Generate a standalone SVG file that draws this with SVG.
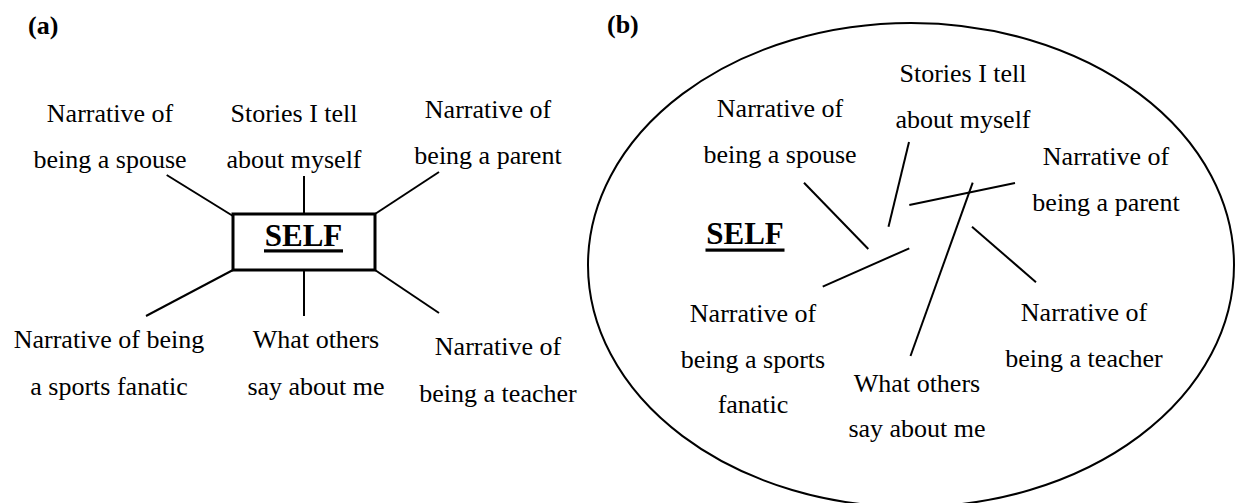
<svg xmlns="http://www.w3.org/2000/svg" width="1240" height="503" viewBox="0 0 1240 503">
<style>
  text { font-family: "Liberation Serif", "Times New Roman", "DejaVu Serif", serif; }
  .t { font-size: 26px; fill: #000; text-anchor: middle; }
  .panel { font-size: 26px; font-weight: bold; fill: #000; }
  .self { font-size: 31px; font-weight: bold; fill: #000; text-anchor: middle; }
  .ln { stroke: #000; stroke-width: 2; fill: none; stroke-linecap: butt; }
  .box { stroke: #000; stroke-width: 3; fill: #fff; }
  .ul { fill: #000; }
</style>
<rect width="1240" height="503" fill="#fff"/>

<g id="panel-a">
  <text class="panel" x="28" y="34">(a)</text>
  <g id="a-connectors">
    <line class="ln" x1="166.7" y1="175" x2="233" y2="216"/>
    <line class="ln" x1="304" y1="176" x2="304" y2="214"/>
    <line class="ln" x1="439" y1="172" x2="375" y2="214"/>
    <line class="ln" x1="233" y1="270" x2="146" y2="316"/>
    <line class="ln" x1="304" y1="270" x2="304" y2="316"/>
    <line class="ln" x1="375" y1="270" x2="439" y2="313"/>
  </g>
  <g id="a-self">
    <rect class="box" x="233" y="214" width="142" height="56"/>
    <text class="self" x="303.5" y="245.5">SELF</text>
    <rect class="ul" x="264" y="249.3" width="79" height="3.2"/>
  </g>
  <g id="a-spouse"><text class="t" x="110" y="122">Narrative of</text><text class="t" x="110" y="168">being a spouse</text></g>
  <g id="a-stories"><text class="t" x="294" y="122">Stories I tell</text><text class="t" x="294" y="168">about myself</text></g>
  <g id="a-parent"><text class="t" x="488" y="118">Narrative of</text><text class="t" x="488" y="164">being a parent</text></g>
  <g id="a-sports"><text class="t" x="109" y="348">Narrative of being</text><text class="t" x="109" y="395">a sports fanatic</text></g>
  <g id="a-others"><text class="t" x="316" y="348">What others</text><text class="t" x="316" y="395">say about me</text></g>
  <g id="a-teacher"><text class="t" x="498" y="355">Narrative of</text><text class="t" x="498" y="402">being a teacher</text></g>
</g>

<g id="panel-b">
  <text class="panel" x="607" y="33">(b)</text>
  <ellipse class="ln" cx="911" cy="265" rx="323" ry="242"/>
  <g id="b-connectors">
    <line class="ln" x1="804" y1="182.7" x2="868.3" y2="249"/>
    <line class="ln" x1="909" y1="142" x2="888.5" y2="226.7"/>
    <line class="ln" x1="909.3" y1="205" x2="1015" y2="183"/>
    <line class="ln" x1="972.7" y1="182.7" x2="910.5" y2="356"/>
    <line class="ln" x1="972" y1="226.7" x2="1036" y2="282.3"/>
    <line class="ln" x1="909.3" y1="248.3" x2="822.7" y2="286.7"/>
  </g>
  <g id="b-self">
    <text class="self" x="745" y="244.3">SELF</text>
    <rect class="ul" x="705.5" y="248.5" width="79" height="3.2"/>
  </g>
  <g id="b-stories"><text class="t" x="963" y="82">Stories I tell</text><text class="t" x="963" y="128">about myself</text></g>
  <g id="b-spouse"><text class="t" x="780" y="117">Narrative of</text><text class="t" x="780" y="163">being a spouse</text></g>
  <g id="b-parent"><text class="t" x="1106" y="165">Narrative of</text><text class="t" x="1106" y="211">being a parent</text></g>
  <g id="b-sports"><text class="t" x="753" y="322">Narrative of</text><text class="t" x="753" y="368">being a sports</text><text class="t" x="753" y="413">fanatic</text></g>
  <g id="b-others"><text class="t" x="917" y="392">What others</text><text class="t" x="917" y="437">say about me</text></g>
  <g id="b-teacher"><text class="t" x="1084" y="321">Narrative of</text><text class="t" x="1084" y="367">being a teacher</text></g>
</g>
</svg>
